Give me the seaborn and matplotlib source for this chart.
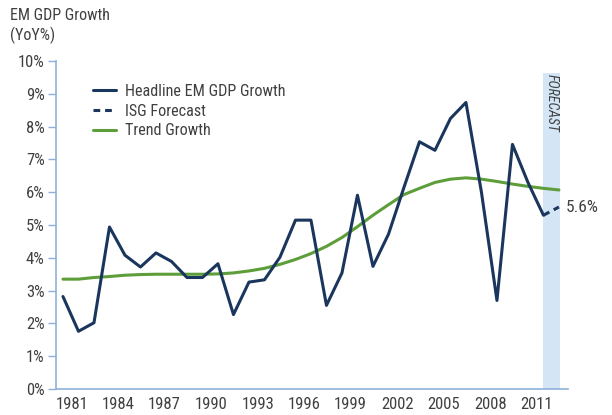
import matplotlib
matplotlib.use("Agg")
import matplotlib.pyplot as plt
import seaborn as sns
import pandas as pd
from matplotlib.lines import Line2D

sns.set_style("white")
plt.rcParams['font.family'] = ['Roboto Condensed', 'DejaVu Sans']

years = list(range(1981, 2013))
headline = [2.82, 1.76, 2.02, 4.94, 4.08, 3.72, 4.15, 3.89, 3.40, 3.40,
            3.82, 2.27, 3.26, 3.33, 4.02, 5.15, 5.15, 2.55, 3.54, 5.91,
            3.74, 4.72, 6.15, 7.54, 7.28, 8.25, 8.74, 6.00, 2.70, 7.46,
            6.30, 5.30]
forecast_years = [2012, 2013]
forecast = [5.30, 5.55]
trend_years = list(range(1981, 2014))
trend = [3.35, 3.35, 3.40, 3.43, 3.47, 3.49, 3.50, 3.50, 3.50, 3.50,
         3.51, 3.54, 3.60, 3.68, 3.80, 3.95, 4.13, 4.35, 4.62, 4.95,
         5.30, 5.62, 5.93, 6.12, 6.30, 6.40, 6.44, 6.40, 6.33, 6.25,
         6.18, 6.12, 6.07]
tick_years = [1981, 1984, 1987, 1990, 1993, 1996, 1999, 2002, 2005, 2008, 2011]
yticks = list(range(0, 11))
forecast_label = "5.6%"

navy = "#1b365d"
green = "#5e9e3a"
band = "#d4e5f6"
axc = "#8fb1d9"
txt = "#404040"

fig = plt.figure(figsize=(6.12, 4.15), dpi=100)
ax = fig.add_axes([0.091, 0.0627, 0.837, 0.790])

ax.axvspan(2011.97, 2013.07, ymin=0, ymax=0.965, color=band, lw=0, zorder=0)

df_h = pd.DataFrame({"year": years, "v": headline})
df_f = pd.DataFrame({"year": forecast_years, "v": forecast})
df_t = pd.DataFrame({"year": trend_years, "v": trend})

sns.lineplot(data=df_t, x="year", y="v", ax=ax, color=green, lw=2.2, zorder=2)
sns.lineplot(data=df_h, x="year", y="v", ax=ax, color=navy, lw=2.2, zorder=3)
sns.lineplot(data=df_f, x="year", y="v", ax=ax, color=navy, lw=2.2, zorder=3,
             linestyle=(0, (2.2, 1.6)))

ax.set_xlim(1980.53, 2013.58)
ax.set_ylim(0, 10)
ax.set_xlabel("")
ax.set_ylabel("")
ax.set_yticks(yticks)
ax.set_yticklabels([f"{v}%" for v in yticks], fontsize=12, color=txt)
ax.set_xticks([y + 0.56 for y in tick_years])
ax.set_xticklabels([str(y) for y in tick_years], fontsize=12, color=txt)
ax.tick_params(axis='y', length=6, width=1, color=axc, pad=2, direction='out', left=True)
ax.tick_params(axis='x', length=0, pad=6)
for s in ["top", "right"]:
    ax.spines[s].set_visible(False)
for s in ["left", "bottom"]:
    ax.spines[s].set_color(axc)
    ax.spines[s].set_linewidth(1.2)

ax.text(2013.45, forecast[-1], forecast_label, fontsize=12.5, color=txt, va="center", ha="left")
ax.text(2012.52, 9.62, "FORECAST", rotation=270, fontsize=10, color=txt, style="italic",
        va="top", ha="center")

fig.text(0.016, 0.962, "EM GDP Growth", fontsize=11.5, color=txt, va="center", ha="left")
fig.text(0.016, 0.915, "(YoY%)", fontsize=11.5, color=txt, va="center", ha="left")

handles = [Line2D([], [], color=navy, lw=2.2),
           Line2D([], [], color=navy, lw=2.2, linestyle=(0, (2.2, 1.6))),
           Line2D([], [], color=green, lw=2.2)]
labels = ["Headline EM GDP Growth", "ISG Forecast", "Trend Growth"]
leg = ax.legend(handles, labels, loc="upper left", bbox_to_anchor=(0.045, 0.975),
                frameon=False, fontsize=11.6, handlelength=1.4, handletextpad=0.55,
                labelspacing=0.3)
for t in leg.get_texts():
    t.set_color(txt)

fig.savefig("out.png", dpi=100)
